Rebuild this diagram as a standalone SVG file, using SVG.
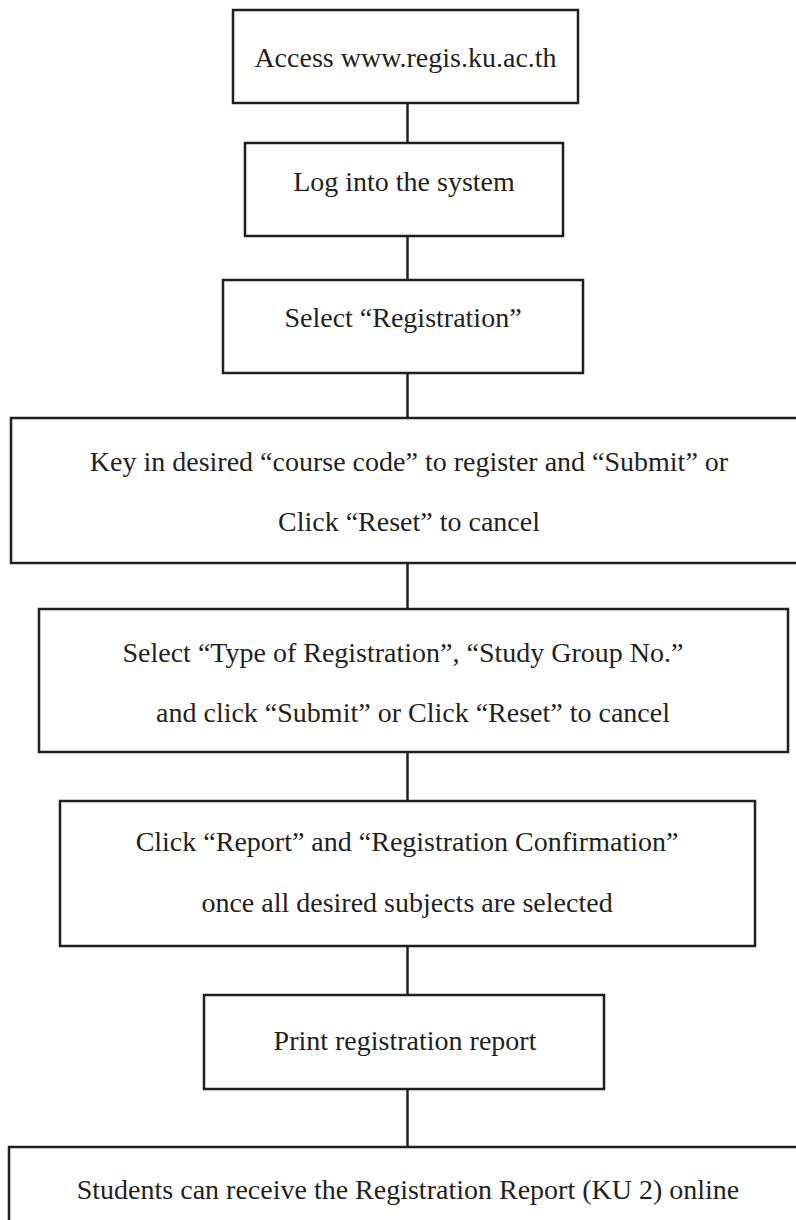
<svg xmlns="http://www.w3.org/2000/svg" width="796" height="1220" viewBox="0 0 796 1220">
<style>
.box{fill:#fff;stroke:#231f20;stroke-width:2.5}
.lbl{font-family:"Liberation Serif","Times New Roman",serif;font-size:28px;fill:#231f20;text-anchor:middle}
.con{stroke:#231f20;stroke-width:2.5;fill:none}
</style>
<rect width="796" height="1220" fill="#fff"/>
<g id="connectors">
<line class="con" x1="407.5" y1="103" x2="407.5" y2="143"/>
<line class="con" x1="407.5" y1="236" x2="407.5" y2="280"/>
<line class="con" x1="407.5" y1="373" x2="407.5" y2="418"/>
<line class="con" x1="407.5" y1="563" x2="407.5" y2="609"/>
<line class="con" x1="407.5" y1="752" x2="407.5" y2="801"/>
<line class="con" x1="407.5" y1="946" x2="407.5" y2="995"/>
<line class="con" x1="407.5" y1="1089" x2="407.5" y2="1147"/>
</g>
<g id="n1"><rect class="box" x="233" y="10" width="345" height="93"/><text class="lbl" x="405.5" y="67">Access www.regis.ku.ac.th</text></g>
<g id="n2"><rect class="box" x="245" y="143" width="318" height="93"/><text class="lbl" x="404" y="191">Log into the system</text></g>
<g id="n3"><rect class="box" x="223" y="280" width="360" height="93"/><text class="lbl" x="403" y="327">Select “Registration”</text></g>
<g id="n4"><rect class="box" x="11" y="418" width="800" height="145"/><text class="lbl" x="409" y="471">Key in desired “course code” to register and “Submit” or</text><text class="lbl" x="409" y="531">Click “Reset” to cancel</text></g>
<g id="n5"><rect class="box" x="39" y="609" width="749" height="143"/><text class="lbl" x="403" y="662">Select “Type of Registration”, “Study Group No.”</text><text class="lbl" x="413" y="722">and click “Submit” or Click “Reset” to cancel</text></g>
<g id="n6"><rect class="box" x="60" y="801" width="695" height="145"/><text class="lbl" x="407" y="851">Click “Report” and “Registration Confirmation”</text><text class="lbl" x="407" y="912">once all desired subjects are selected</text></g>
<g id="n7"><rect class="box" x="204" y="995" width="400" height="94"/><text class="lbl" x="405" y="1050">Print registration report</text></g>
<g id="n8"><rect class="box" x="9" y="1147" width="800" height="100"/><text class="lbl" x="408" y="1199">Students can receive the Registration Report (KU 2) online</text></g>
</svg>
